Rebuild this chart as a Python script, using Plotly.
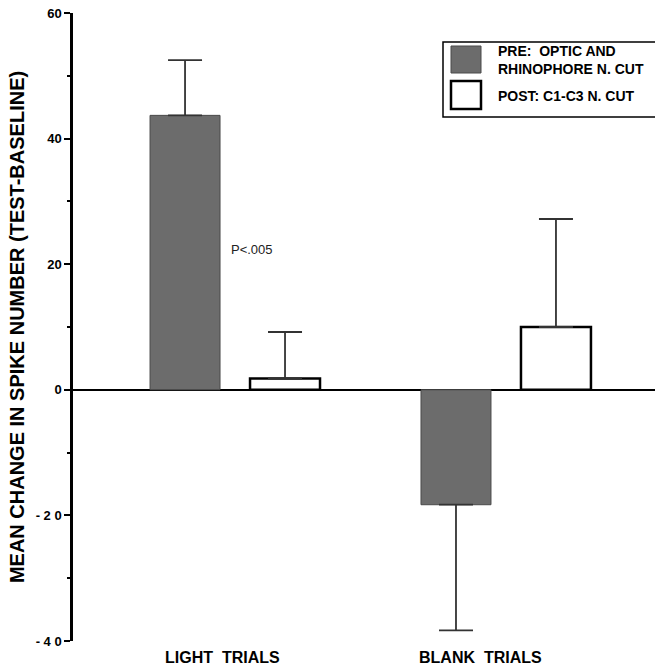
import plotly.graph_objects as go

# ---- data ----
categories = ["LIGHT TRIALS", "BLANK TRIALS"]
series_names = ["PRE:  OPTIC AND<br>RHINOPHORE N. CUT", "POST: C1-C3 N. CUT"]
pre_means = [43.7, -18.3]
pre_err_up = [8.8, 0.0]
pre_err_down = [0.0, 20.0]
post_means = [1.8, 10.0]
post_err_up = [7.4, 17.2]
post_err_down = [0.0, 0.0]
ytick_vals = [-40, -20, 0, 20, 40, 60]
ytick_text = ["- 4 0", "- 2 0", "0", "20", "40", "60"]
y_title = "MEAN CHANGE IN SPIKE NUMBER (TEST-BASELINE)"
p_label = "P<.005"

W, H = 655, 668
ML, MR, MT, MB = 73, 0, 13, 27
PW, PH = W - ML - MR, H - MT - MB


def px(x):
    return (x - ML) / PW


def py(y):
    return (H - MB - y) / PH


FONT = "Liberation Sans, Arial, Helvetica, sans-serif"
NB = "\u00a0"

fig = go.Figure()
fig.add_trace(go.Bar(
    x=categories, y=pre_means, name=series_names[0], showlegend=False,
    marker=dict(color="#6c6c6c", line=dict(color="#4a4a4a", width=1)),
    error_y=dict(type="data", symmetric=False, array=pre_err_up,
                 arrayminus=pre_err_down, color="#333333", thickness=1.8, width=17),
))
fig.add_trace(go.Bar(
    x=categories, y=post_means, name=series_names[1], showlegend=False,
    marker=dict(color="white", line=dict(color="black", width=2.5)),
    error_y=dict(type="data", symmetric=False, array=post_err_up,
                 arrayminus=post_err_down, color="#333333", thickness=1.8, width=17),
))

annotations = []
# category labels
shifts = [-13, -25]
for cat, sh in zip(categories, shifts):
    annotations.append(dict(
        x=cat, xref="x", y=py(657), yref="paper", yanchor="middle",
        text=cat.replace(" ", NB + NB), showarrow=False, xshift=sh,
        font=dict(family=FONT, size=16, color="black", weight="bold"),
    ))
# p value label
annotations.append(dict(
    x=categories[0], xref="x", y=22.4, yref="y", xanchor="left", yanchor="middle",
    xshift=-6, text=p_label, showarrow=False,
    font=dict(family=FONT, size=13, color="#222222"),
))

# manual legend
shapes = [
    dict(type="rect", xref="paper", yref="paper", x0=px(443), x1=px(700),
         y0=py(117), y1=py(42), line=dict(color="black", width=1.5),
         fillcolor="white", layer="above"),
    dict(type="rect", xref="paper", yref="paper", x0=px(451), x1=px(481),
         y0=py(73), y1=py(46), line=dict(color="#4a4a4a", width=1),
         fillcolor="#6c6c6c", layer="above"),
    dict(type="rect", xref="paper", yref="paper", x0=px(451), x1=px(481),
         y0=py(109), y1=py(81), line=dict(color="black", width=2.5),
         fillcolor="white", layer="above"),
]
annotations.append(dict(
    x=px(496), xref="paper", y=py(60), yref="paper", xanchor="left", yanchor="middle",
    text=series_names[0], showarrow=False, align="left",
    font=dict(family=FONT, size=14, color="black", weight="bold"),
))
annotations.append(dict(
    x=px(496), xref="paper", y=py(96), yref="paper", xanchor="left", yanchor="middle",
    text=series_names[1], showarrow=False, align="left",
    font=dict(family=FONT, size=14, color="black", weight="bold"),
))

fig.update_layout(
    width=W, height=H,
    margin=dict(l=ML, r=MR, t=MT, b=MB, pad=0),
    paper_bgcolor="white", plot_bgcolor="white",
    barmode="group", bargap=0.262, bargroupgap=0.3,
    showlegend=False,
    annotations=annotations, shapes=shapes,
    font=dict(family=FONT, color="black"),
)
fig.update_xaxes(
    range=[-0.598, 1.55], showticklabels=False, showline=False,
    showgrid=False, zeroline=False, ticks="",
)
fig.update_yaxes(
    range=[-40, 60], tickvals=ytick_vals, ticktext=ytick_text,
    showline=True, linecolor="black", linewidth=2.5,
    ticks="outside", ticklen=6, tickwidth=2, tickcolor="black",
    minor=dict(ticks="outside", ticklen=3, tickwidth=2, tickcolor="black",
               dtick=10, tick0=0, showgrid=False),
    showgrid=False, zeroline=True, zerolinecolor="black", zerolinewidth=2,
    tickfont=dict(family=FONT, size=13, color="black", weight="bold"),
    title=dict(text=y_title, standoff=6,
               font=dict(family=FONT, size=20, color="black", weight="bold")),
    automargin=False,
)

fig.write_html(
    "out.html",
    config={"displayModeBar": False},
    post_script="document.body.style.margin='0';document.body.style.padding='0';",
)
